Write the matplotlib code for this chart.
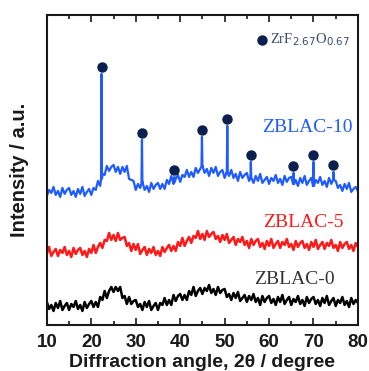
import numpy as np
import matplotlib
matplotlib.use("Agg")
import matplotlib.pyplot as plt

# 2-theta grid, 0.5 degree steps from 10 to 80
two_theta = np.arange(10, 80.01, 0.5)

# intensities (a.u., already vertically offset)
zblac0 = [
    23, 16, 20, 14, 22, 17, 24, 15, 19, 22,
    15, 21, 18, 24, 16, 20, 14, 23, 17, 21,
    24, 18, 23, 18, 28, 25, 34, 27, 34, 38,
    33, 38, 34, 38, 27, 29, 21, 28, 21, 24,
    25, 18, 21, 15, 23, 18, 24, 15, 19, 22,
    15, 22, 20, 27, 20, 25, 20, 30, 24, 29,
    31, 25, 30, 25, 34, 30, 38, 29, 34, 37,
    31, 37, 34, 40, 32, 36, 30, 38, 32, 35,
    36, 28, 31, 25, 32, 27, 33, 24, 27, 30,
    23, 29, 25, 31, 23, 27, 20, 29, 23, 27,
    29, 22, 26, 20, 28, 23, 30, 21, 25, 28,
    20, 26, 23, 29, 21, 25, 19, 28, 22, 26,
    28, 21, 25, 19, 27, 22, 29, 20, 24, 27,
    19, 25, 22, 28, 20, 24, 18, 27, 21, 25,
    22,
]
zblac5 = [
    71, 78, 69, 73, 76, 69, 75, 72, 78, 70,
    74, 68, 77, 71, 75, 77, 70, 74, 68, 76,
    72, 80, 72, 78, 82, 77, 85, 84, 92, 85,
    90, 84, 92, 85, 87, 88, 79, 82, 74, 81,
    75, 81, 71, 75, 78, 70, 76, 72, 78, 70,
    74, 69, 78, 73, 77, 80, 74, 79, 74, 83,
    79, 87, 79, 84, 88, 82, 89, 87, 94, 86,
    91, 85, 94, 88, 91, 93, 86, 89, 83, 90,
    85, 91, 82, 85, 88, 80, 86, 83, 88, 80,
    84, 77, 86, 80, 84, 86, 78, 82, 76, 84,
    79, 86, 77, 81, 84, 77, 83, 80, 86, 78,
    81, 75, 84, 78, 82, 84, 77, 81, 75, 83,
    78, 85, 76, 80, 83, 76, 82, 79, 85, 77,
    80, 74, 83, 77, 81, 83, 76, 80, 74, 82,
    78,
]
zblac10 = [
    129, 135, 132, 138, 130, 134, 128, 137, 131, 135,
    137, 130, 134, 128, 136, 131, 138, 129, 133, 136,
    130, 137, 135, 144, 139, 151, 150, 159, 154, 158,
    160, 153, 158, 151, 158, 153, 159, 146, 145, 144,
    135, 141, 137, 143, 135, 139, 133, 142, 136, 140,
    142, 136, 141, 136, 145, 141, 149, 141, 146, 150,
    143, 150, 148, 155, 148, 153, 148, 157, 152, 156,
    159, 152, 156, 149, 157, 152, 158, 149, 153, 155,
    147, 153, 149, 155, 147, 151, 144, 153, 147, 150,
    152, 144, 148, 142, 149, 144, 151, 142, 145, 148,
    141, 147, 144, 150, 142, 146, 140, 149, 143, 147,
    148, 141, 145, 139, 147, 142, 149, 140, 144, 147,
    139, 145, 142, 148, 140, 144, 138, 147, 141, 145,
    144, 137, 140, 134, 141, 136, 142, 133, 136, 138,
    134,
]

# sharp ZrF2.67O0.67 reflections in ZBLAC-10
peak_pos = [22.3, 31.4, 38.7, 44.9, 50.6, 55.9, 65.5, 70.0, 74.5]
peak_top = [251, 185, 148, 188, 199, 163, 152, 163, 153]

series_labels = ["ZBLAC-10", "ZBLAC-5", "ZBLAC-0"]
phase_label = r"ZrF$_{2.67}$O$_{0.67}$"

navy = "#0b1f4f"
blue = "#1f5cff"
red = "#ff1a1a"
dark = "#1a1a1a"

# merge the sharp peaks into the blue pattern
x10 = list(two_theta)
y10 = list(zblac10)
for p, t in zip(peak_pos, peak_top):
    b = float(np.interp(p, two_theta, zblac10))
    x10 += [p - 0.1, p, p + 0.1]
    y10 += [b, t, b]
order = np.argsort(x10)
x10 = np.array(x10)[order]
y10 = np.array(y10)[order]

fig = plt.figure(figsize=(3.69, 3.71), dpi=100)
ax = fig.add_axes([0.127, 0.124, 0.843, 0.836])

ax.plot(two_theta, zblac0, color="black", lw=1.8)
ax.plot(two_theta, zblac5, color=red, lw=1.8)
ax.plot(x10, y10, color=blue, lw=1.6)

ax.plot(peak_pos, np.array(peak_top) + 7, "o", color=navy, ms=6.5)
ax.plot([58.4], [285], "o", color=navy, ms=6.5)
ax.text(60.3, 285, phase_label, color="#3a4a6a", fontsize=10.5,
        family="Liberation Serif", va="center", ha="left")

ax.text(78.8, 197, series_labels[0], color=blue, fontsize=14,
        family="Liberation Serif", ha="right", va="center")
ax.text(76.8, 102, series_labels[1], color=red, fontsize=14,
        family="Liberation Serif", ha="right", va="center")
ax.text(74.8, 45, series_labels[2], color="#333333", fontsize=14,
        family="Liberation Serif", ha="right", va="center")

ax.set_xlim(10, 80)
ax.set_ylim(0, 310)
ax.set_xticks(np.arange(10, 81, 10))
ax.set_xticks(np.arange(15, 80, 10), minor=True)
ax.set_yticks([])
ax.tick_params(axis="x", which="both", direction="in", top=True, bottom=True,
               width=1.2, labelsize=13.5, pad=6.5, colors=dark)
ax.tick_params(axis="x", which="major", length=5)
ax.tick_params(axis="x", which="minor", length=3)
for lbl in ax.get_xticklabels():
    lbl.set_fontweight("bold")
    lbl.set_family("Liberation Sans")
for s in ax.spines.values():
    s.set_linewidth(1.5)
    s.set_color(dark)

ax.set_xlabel("Diffraction angle, 2\u03b8 / degree", fontsize=14,
              fontweight="bold", family="Liberation Sans", color=dark, labelpad=2)
ax.set_ylabel("Intensity / a.u.", fontsize=14.5, fontweight="bold",
              family="Liberation Sans", color=dark, labelpad=13)

fig.savefig("out.png", dpi=100)
